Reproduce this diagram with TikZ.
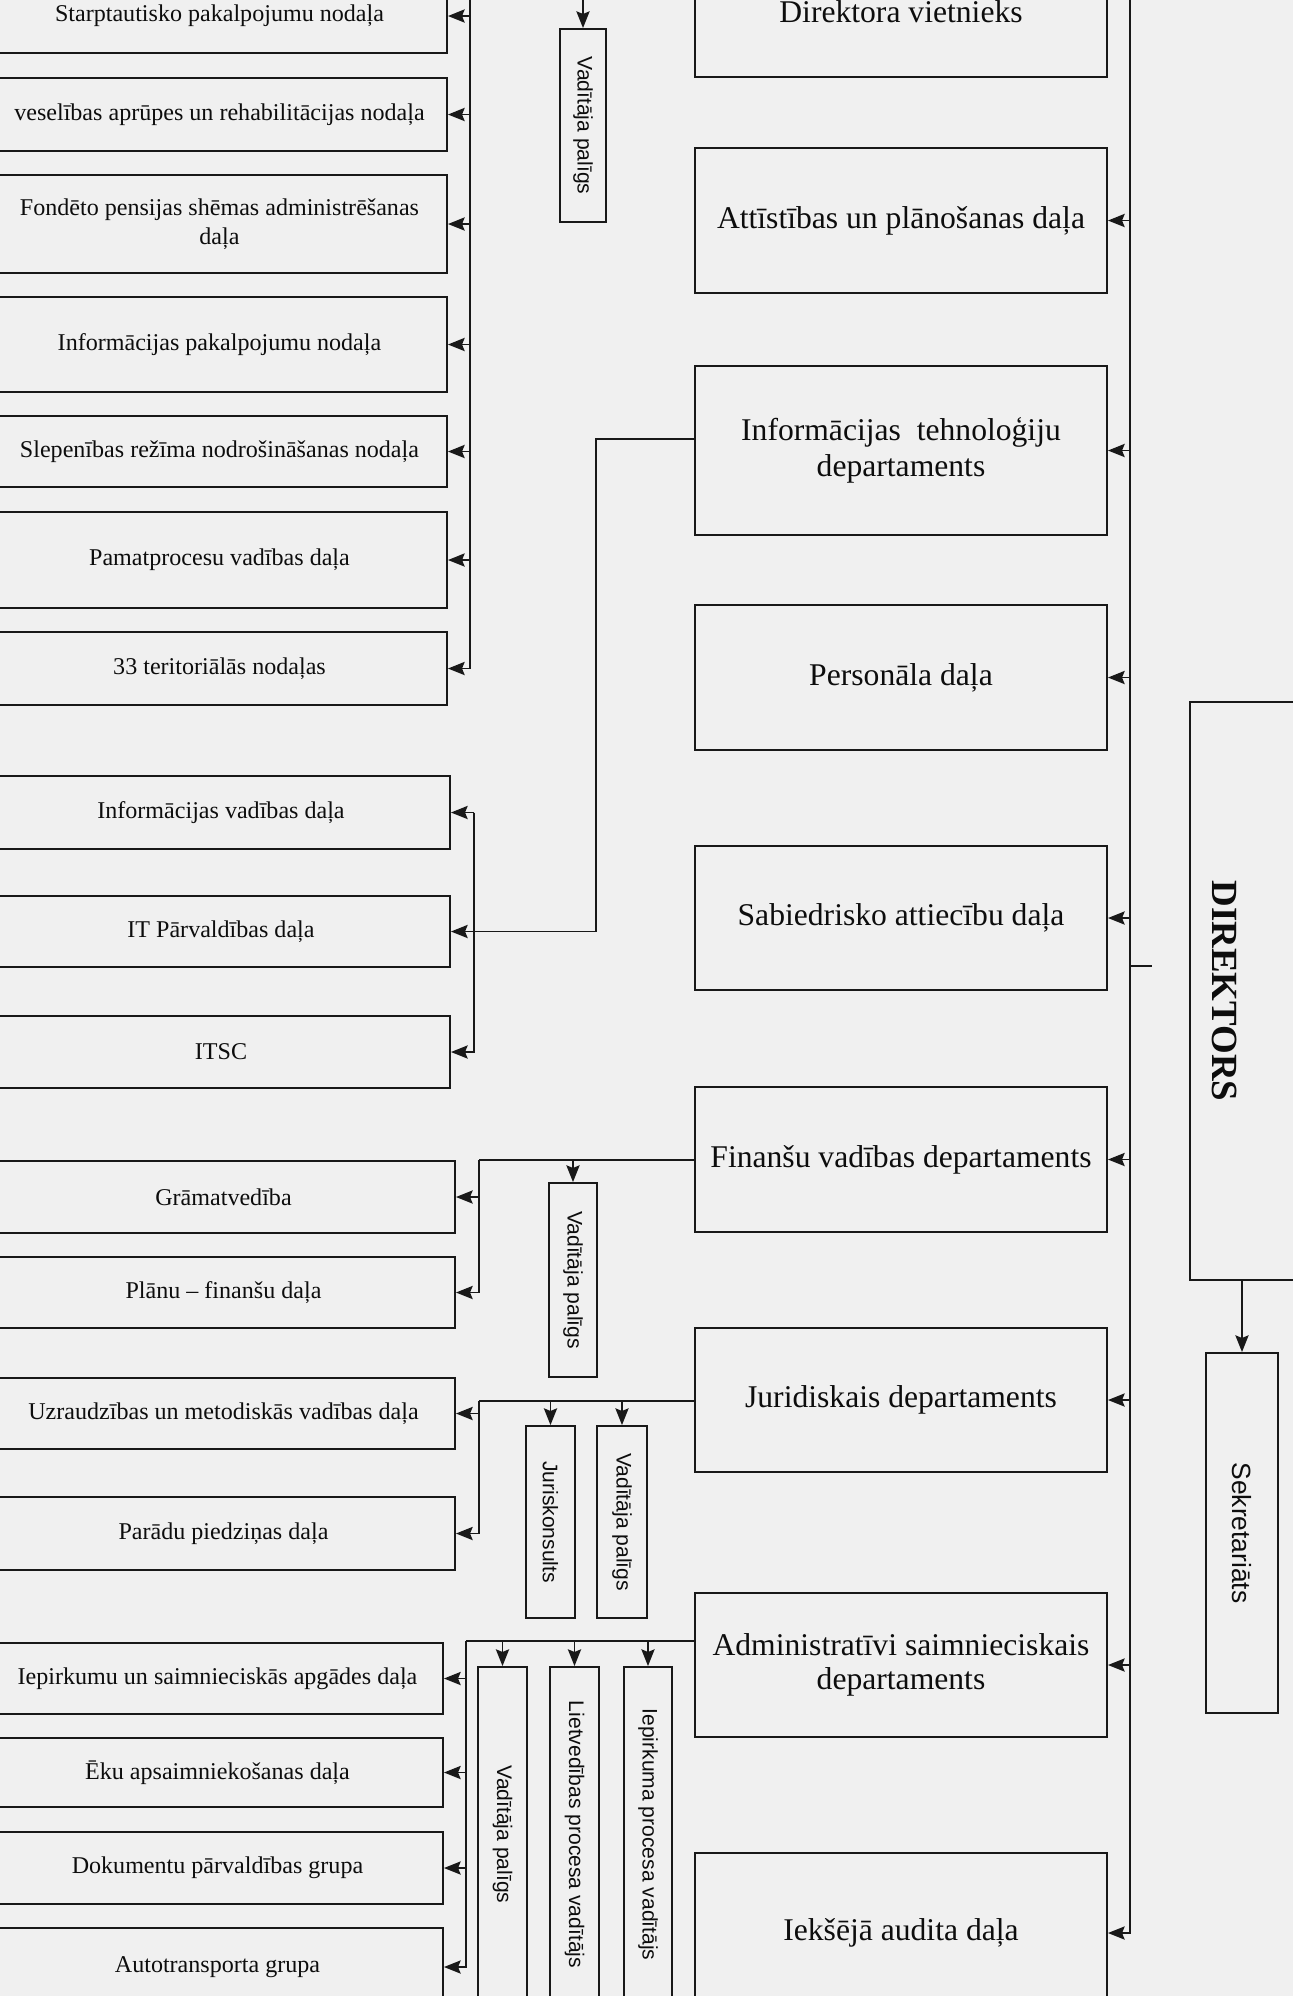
\documentclass[tikz,border=0pt]{standalone}
\usepackage{fontspec}
\setmainfont{Liberation Serif}
\newfontfamily\sansfam{Liberation Sans}
\usepackage{graphicx}
\usepackage{tikz}
\usetikzlibrary{arrows.meta}

\newcommand{\leftfont}{\fontsize{13.7}{16.4}\selectfont}
\newcommand{\midfont}{\fontsize{18}{20.5}\selectfont}
\newcommand{\smallsans}{\sansfam\fontsize{12}{14}\selectfont}
\newcommand{\pxl}{0.02cm}

\tikzstyle{leftbox} = [rectangle, draw=black!90, line width=1.1pt, font=\leftfont, text=black!95, align=center, inner sep=1pt]
\tikzstyle{midbox} = [rectangle, draw=black!90, line width=1.1pt, font=\midfont, text=black!95, align=center, inner sep=1pt]
\tikzstyle{vbox} = [rectangle, draw=black!90, line width=1.1pt, font=\smallsans, text=black!95, inner sep=0pt]
\tikzstyle{bus} = [line width=1.1pt, draw=black!90]
\tikzstyle{conn} = [line width=1.1pt, draw=black!90, ->, >={Stealth[length=9.5pt,width=7.5pt,inset=1.5pt]}]
\tikzset{boxsize/.style 2 args={minimum width=#1*\pxl, minimum height=#2*\pxl}}

\begin{document}
\begin{tikzpicture}[x=0.02cm, y=-0.02cm]
\path[use as bounding box] (0,0) rectangle (1293,1996);
\clip (0,0) rectangle (1293,1996);
\fill[black!6] (0,0) rectangle (1293,1996);

% deputy group
\node (starpt) [leftbox, boxsize={455}{74}] at (219.5,16) {Starptautisko pakalpojumu nodaļa};
\node (vesel) [leftbox, boxsize={455}{73}] at (219.5,114.5) {veselības aprūpes un rehabilitācijas nodaļa};
\node (fonde) [leftbox, boxsize={455}{98}] at (219.5,224) {Fondēto pensijas shēmas administrēšanas\\daļa};
\node (infpak) [leftbox, boxsize={455}{95}] at (219.5,344.5) {Informācijas pakalpojumu nodaļa};
\node (slepen) [leftbox, boxsize={455}{71}] at (219.5,451.5) {Slepenības režīma nodrošināšanas nodaļa};
\node (pamat) [leftbox, boxsize={455}{96}] at (219.5,560) {Pamatprocesu vadības daļa};
\node (terit) [leftbox, boxsize={455}{73}] at (219.5,668.5) {33 teritoriālās nodaļas};
\node (vp1) [vbox, boxsize={46}{193}] at (583,125.5) {\rotatebox{-90}{Vadītāja palīgs}};

% IT group
\node (infvad) [leftbox, boxsize={458}{73}] at (221,812.5) {Informācijas vadības daļa};
\node (itparv) [leftbox, boxsize={458}{71}] at (221,931.5) {IT Pārvaldības daļa};
\node (itsc) [leftbox, boxsize={458}{72}] at (221,1052) {ITSC};

% finance group
\node (gramat) [leftbox, boxsize={463}{72}] at (223.5,1197) {Grāmatvedība};
\node (planu) [leftbox, boxsize={463}{71}] at (223.5,1292.5) {Plānu – finanšu daļa};
\node (vp2) [vbox, boxsize={48}{194}] at (573,1280) {\rotatebox{-90}{Vadītāja palīgs}};

% legal group
\node (uzraud) [leftbox, boxsize={463}{71}] at (223.5,1413.5) {Uzraudzības un metodiskās vadības daļa};
\node (paradu) [leftbox, boxsize={463}{73}] at (223.5,1533.5) {Parādu piedziņas daļa};
\node (jurisk) [vbox, boxsize={49}{192}] at (550.5,1522) {\rotatebox{-90}{Juriskonsults}};
\node (vp3) [vbox, boxsize={50}{192}] at (622,1522) {\rotatebox{-90}{Vadītāja palīgs}};

% admin group
\node (iepirk) [leftbox, boxsize={451}{71}] at (217.5,1678.5) {Iepirkumu un saimnieciskās apgādes daļa};
\node (eku) [leftbox, boxsize={451}{69}] at (217.5,1772.5) {Ēku apsaimniekošanas daļa};
\node (dokum) [leftbox, boxsize={451}{72}] at (217.5,1868) {Dokumentu pārvaldības grupa};
\node (auto) [leftbox, boxsize={451}{78}] at (217.5,1967) {Autotransporta grupa};
\node (vp4) [vbox, boxsize={49}{335}] at (502.5,1834.5) {\rotatebox{-90}{Vadītāja palīgs}};
\node (lietv) [vbox, boxsize={49}{335}] at (574.5,1834.5) {\rotatebox{-90}{Lietvedības procesa vadītājs}};
\node (iepproc) [vbox, boxsize={48}{335}] at (648,1834.5) {\rotatebox{-90}{Iepirkuma procesa vadītājs}};

% departments
\node (dirvice) [midbox, boxsize={412}{130}] at (901,12) {Direktora vietnieks};
\node (attis) [midbox, boxsize={412}{145}] at (901,220.5) {Attīstības un plānošanas daļa};
\node (itdep) [midbox, boxsize={412}{169}] at (901,450.5) {Informācijas\enspace tehnoloģiju\\departaments};
\node (person) [midbox, boxsize={412}{145}] at (901,677.5) {Personāla daļa};
\node (sabied) [midbox, boxsize={412}{144}] at (901,918) {Sabiedrisko attiecību daļa};
\node (finan) [midbox, boxsize={412}{145}] at (901,1159.5) {Finanšu vadības departaments};
\node (jurid) [midbox, boxsize={412}{144}] at (901,1400) {Juridiskais departaments};
\node (admin) [midbox, boxsize={412}{144}, font=\fontsize{18}{19.5}\selectfont] at (901,1665) {Administratīvi saimnieciskais\\departaments};
\node (audit) [midbox, boxsize={412}{160}] at (901,1933) {Iekšējā audita daļa};

% director
\node (director) [vbox, boxsize={140}{578}, font=\bfseries\fontsize{21}{24}\selectfont] at (1260,991) {\rotatebox{-90}{DIREKTORS}\rule{1.4cm}{0pt}};
\node (sekret) [vbox, boxsize={72}{360}, font=\sansfam\fontsize{15}{17}\selectfont] at (1242,1533) {\rotatebox{-90}{Sekretariāts}};

\coordinate (depbus) at (470,-5);
\coordinate (dirbus) at (1130,-5);
\coordinate (vp1in) at (583,-5);
\coordinate (itturn) at (596,439);
\coordinate (itbus) at (474,0);
\coordinate (finbus) at (479,1160);
\coordinate (jurbus) at (479,1401);
\coordinate (admbus) at (466,1641);
\coordinate (dirtick) at (1152,966);

% deputy links
\draw [conn] (vp1in) -- (vp1);
\draw [conn] (depbus) |- (terit.east);
\draw [conn] (depbus |- starpt.east) -- (starpt.east);
\draw [conn] (depbus |- vesel.east) -- (vesel.east);
\draw [conn] (depbus |- fonde.east) -- (fonde.east);
\draw [conn] (depbus |- infpak.east) -- (infpak.east);
\draw [conn] (depbus |- slepen.east) -- (slepen.east);
\draw [conn] (depbus |- pamat.east) -- (pamat.east);

% IT links
\draw [conn] (itdep.west |- itturn) -- (itturn) |- (itparv.east);
\draw [conn] (itbus |- infvad.east) -- (infvad.east);
\draw [conn] (itbus |- infvad.east) |- (itsc.east);

% finance links
\draw [bus] (finan.west |- finbus) -- (finbus);
\draw [conn] (finbus) |- (gramat.east);
\draw [conn] (finbus) |- (planu.east);
\draw [conn] (vp2 |- finbus) -- (vp2);

% legal links
\draw [bus] (jurid.west |- jurbus) -- (jurbus);
\draw [conn] (jurbus) |- (uzraud.east);
\draw [conn] (jurbus) |- (paradu.east);
\draw [conn] (jurisk |- jurbus) -- (jurisk);
\draw [conn] (vp3 |- jurbus) -- (vp3);

% admin links
\draw [bus] (admin.west |- admbus) -- (admbus);
\draw [conn] (admbus) |- (iepirk.east);
\draw [conn] (admbus) |- (eku.east);
\draw [conn] (admbus) |- (dokum.east);
\draw [conn] (admbus) |- (auto.east);
\draw [conn] (vp4 |- admbus) -- (vp4);
\draw [conn] (lietv |- admbus) -- (lietv);
\draw [conn] (iepproc |- admbus) -- (iepproc);

% director links
\draw [conn] (dirbus) |- (audit.east);
\draw [conn] (dirbus |- attis.east) -- (attis.east);
\draw [conn] (dirbus |- itdep.east) -- (itdep.east);
\draw [conn] (dirbus |- person.east) -- (person.east);
\draw [conn] (dirbus |- sabied.east) -- (sabied.east);
\draw [conn] (dirbus |- finan.east) -- (finan.east);
\draw [conn] (dirbus |- jurid.east) -- (jurid.east);
\draw [conn] (dirbus |- admin.east) -- (admin.east);
\draw [bus] (dirbus |- dirtick) -- (dirtick);
\draw [conn] (director.south -| sekret) -- (sekret);

\end{tikzpicture}
\end{document}
